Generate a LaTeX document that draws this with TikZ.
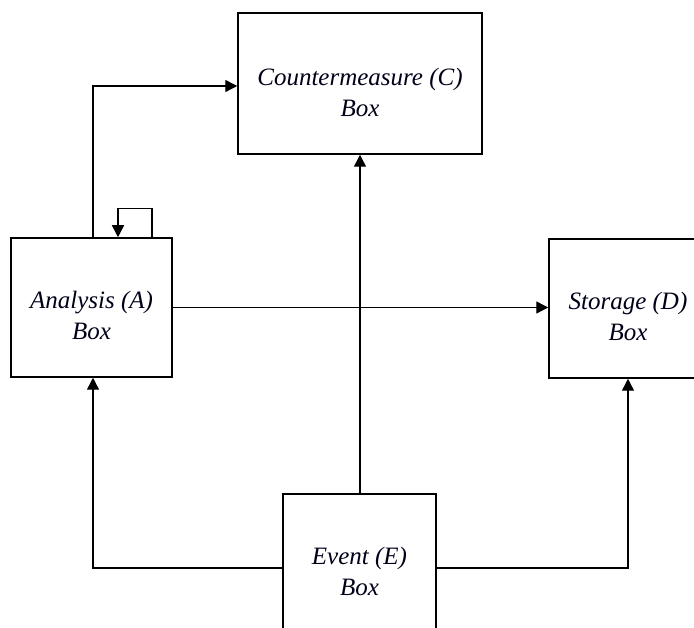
\documentclass[tikz,border=0pt]{standalone}
\usepackage{fontspec}
\setmainfont{Liberation Serif}
\usetikzlibrary{arrows.meta}
\tikzset{
  box/.style={draw, line width=1.5pt, rectangle, inner sep=0pt},
  txt/.style={align=center, font=\fontsize{25}{31}\selectfont\itshape, text=black!90!blue, inner sep=0pt},
  arr/.style={line width=1.4pt, -{Triangle[length=12pt,width=12pt]}}
}
\begin{document}
\begin{tikzpicture}[x=1pt,y=-1pt]
\useasboundingbox (0,0) rectangle (694,628);
\clip (0,0) rectangle (694,628);
\fill[white] (0,0) rectangle (694,628);
\node[box, minimum width=161pt, minimum height=139pt] (A) at (91.5,307.5) {};
\node[box, minimum width=244pt, minimum height=141pt] (C) at (360,83.5) {};
\node[box, minimum width=158pt, minimum height=139pt] (D) at (628,308.5) {};
\node[box, minimum width=153pt, minimum height=148pt] (E) at (359.5,568) {};
\node[txt] (At) at ([yshift=-8pt]A.center) {Analysis (A)\\Box};
\node[txt] (Ct) at ([yshift=-9pt]C.center) {Countermeasure (C)\\Box};
\node[txt] (Dt) at ([yshift=-8pt]D.center) {Storage (D)\\Box};
\node[txt] (Et) at ([yshift=-3pt]E.center) {Event (E)\\Box};
\draw[arr] ([xshift=1.5pt]A.north) |- ([yshift=-2.5pt]C.west);
\draw[arr] ([xshift=60.5pt]A.north) -- ++(0,-29) -| ([xshift=26.5pt]A.north);
\draw[arr] (A.east) -- (A.east -| D.west);
\draw[arr] (E.north -| C.south) -- (C.south);
\draw[arr] (E.west) -| ([xshift=1.5pt]A.south);
\draw[arr] (E.east) -| (D.south);
\end{tikzpicture}
\end{document}
